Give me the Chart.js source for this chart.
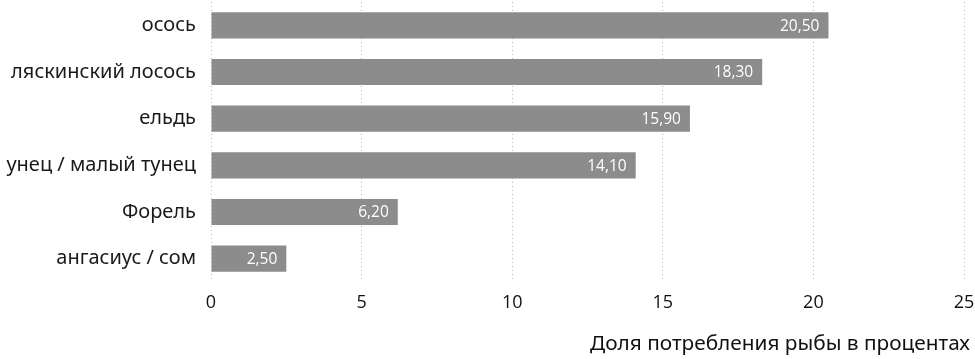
<!DOCTYPE html>
<html>
<head>
<meta charset="utf-8">
<script src="https://cdn.jsdelivr.net/npm/chart.js@4/dist/chart.umd.min.js"></script>
<style>
  html, body { margin: 0; padding: 0; background: #fff; }
  #wrap { width: 975px; height: 359px; }
</style>
</head>
<body>
<div id="wrap"><canvas id="myChart" width="975" height="359"></canvas></div>
<script>
const fishLabels = ["осось", "ляскинский лосось", "ельдь", "унец / малый тунец", "Форель", "ангасиус / сом"];
const shareValues = [20.5, 18.3, 15.9, 14.1, 6.2, 2.5];
const xTicks = [0, 5, 10, 15, 20, 25];
const axisTitle = "Доля потребления рыбы в процентах";

// value labels inside bar ends + axis title in bottom right
const barTextPlugin = {
  id: "barText",
  afterDatasetsDraw(chart) {
    var ctx = chart.ctx;
    var meta = chart.getDatasetMeta(0);
    ctx.save();
    ctx.font = "15.5px 'Open Sans'";
    ctx.fillStyle = "#ffffff";
    ctx.textAlign = "right";
    ctx.textBaseline = "middle";
    meta.data.forEach(function(bar, i) {
      var txt = shareValues[i].toFixed(2).replace(".", ",");
      ctx.fillText(txt, bar.x - 9, bar.y + 1);
    });
    ctx.font = "20.8px 'Noto Sans'";
    ctx.fillStyle = "#111";
    ctx.textAlign = "right";
    ctx.fillText(axisTitle, 970, 344);
    ctx.restore();
  }
};

new Chart("myChart", {
  type: "bar",
  data: {
    labels: fishLabels,
    datasets: [{
      data: shareValues,
      backgroundColor: "#8c8c8c",
      categoryPercentage: 1,
      barPercentage: 0.56
    }]
  },
  options: {
    indexAxis: "y",
    responsive: false,
    animation: false,
    layout: { padding: { top: 2, right: 11, left: 0, bottom: 0 } },
    plugins: {
      legend: { display: false },
      tooltip: { enabled: false }
    },
    scales: {
      x: {
        min: 0,
        max: 25,
        afterBuildTicks: function(scale) {
          scale.ticks = xTicks.map(function(v) { return { value: v }; });
        },
        afterFit: function(scale) {
          scale.height = 77;
          scale.paddingLeft = 0;
          scale.paddingRight = 0;
        },
        grid: {
          color: "#b8b8b8",
          drawTicks: false
        },
        border: { display: false, dash: [1, 3] },
        ticks: {
          padding: 10,
          color: "#111",
          font: { size: 18, family: "'Open Sans'" }
        }
      },
      y: {
        afterFit: function(scale) {
          scale.width = 211;
          scale.paddingTop = 0;
          scale.paddingBottom = 0;
        },
        grid: { display: false, drawTicks: false },
        border: { display: false },
        ticks: {
          padding: 15,
          color: "#1a1a1a",
          font: { size: 20, family: "'Noto Sans'" }
        }
      }
    }
  },
  plugins: [barTextPlugin]
});
</script>
</body>
</html>
